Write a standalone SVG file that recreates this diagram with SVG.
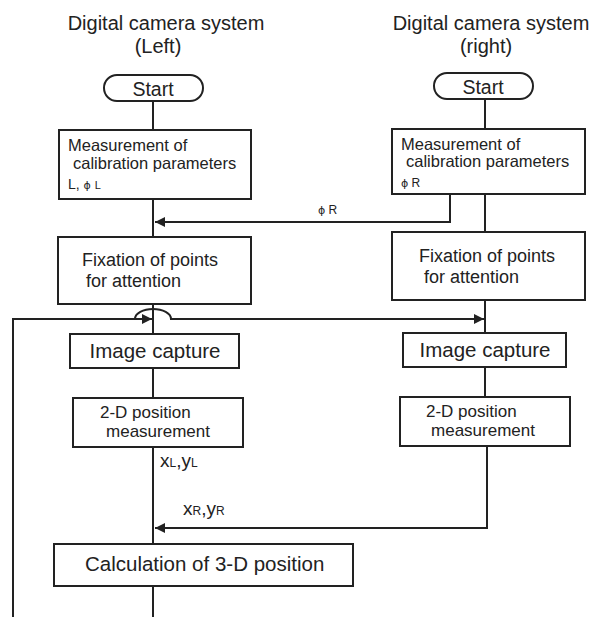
<svg xmlns="http://www.w3.org/2000/svg" width="612" height="617" viewBox="0 0 612 617">
<style>
text{font-family:"Liberation Sans",Arial,sans-serif;fill:#222}
.phi{font-family:"DejaVu Sans",sans-serif}
.box{fill:#fff;stroke:#222;stroke-width:2}
.ln{fill:none;stroke:#222;stroke-width:2}
.t{font-size:20px}
.m{font-size:16.5px}
.f{font-size:18px}
.big{font-size:20.5px}
.s{font-size:12px}
</style>
<defs>
<marker id="ah" viewBox="0 0 10 10" refX="10" refY="5" markerWidth="10" markerHeight="10" markerUnits="userSpaceOnUse" orient="auto">
<path d="M0,0 L10,5 L0,10 z" fill="#222"/>
</marker>
</defs>
<rect width="612" height="617" fill="#fff"/>
<g id="titles">
<text class="t" x="166" y="30" text-anchor="middle">Digital camera system</text>
<text class="t" x="158" y="53" text-anchor="middle">(Left)</text>
<text class="t" x="491" y="30" text-anchor="middle">Digital camera system</text>
<text class="t" x="486" y="53" text-anchor="middle">(right)</text>
</g>
<g id="connectors">
<line class="ln" x1="153" y1="101" x2="153" y2="130"/>
<line class="ln" x1="153" y1="199" x2="153" y2="237"/>
<line class="ln" x1="153" y1="304" x2="153" y2="334"/>
<line class="ln" x1="153" y1="368" x2="153" y2="398"/>
<line class="ln" x1="153" y1="447" x2="153" y2="544"/>
<line class="ln" x1="153" y1="586" x2="153" y2="617"/>
<line class="ln" x1="485" y1="99" x2="485" y2="129"/>
<line class="ln" x1="485" y1="194" x2="485" y2="232"/>
<line class="ln" x1="485" y1="300" x2="485" y2="333"/>
<line class="ln" x1="485" y1="367" x2="485" y2="397"/>
<polyline class="ln" points="450,194 450,222 155,222" marker-end="url(#ah)"/>
<polyline class="ln" points="487,446 487,528 155,528" marker-end="url(#ah)"/>
<polyline class="ln" points="13,617 13,319 152,319" marker-end="url(#ah)"/>
<path class="ln" d="M135,319 A18,10 0 0 1 171,319 L484,319" marker-end="url(#ah)"/>
<text class="s" x="318" y="214"><tspan class="phi" style="font-size:11px">ϕ</tspan> R</text>
<text x="160" y="467" style="font-size:19px">x<tspan style="font-size:12px">L</tspan>,y<tspan style="font-size:12px">L</tspan></text>
<text x="183" y="515" style="font-size:19px">x<tspan style="font-size:12px">R</tspan>,y<tspan style="font-size:12px">R</tspan></text>
</g>
<g id="startL">
<rect class="box" x="104" y="75" width="99" height="26" rx="13"/>
<text x="153" y="96" text-anchor="middle" style="font-size:19.5px">Start</text>
</g>
<g id="startR">
<rect class="box" x="434" y="73" width="99" height="26" rx="13"/>
<text x="483" y="94" text-anchor="middle" style="font-size:19.5px">Start</text>
</g>
<g id="calibL">
<rect class="box" x="59" y="130" width="192" height="69"/>
<text class="m" x="68" y="151">Measurement of</text>
<text class="m" x="73" y="169">calibration parameters</text>
<text x="68" y="189" style="font-size:14px">L,  <tspan class="phi" style="font-size:11px">ϕ</tspan> <tspan style="font-size:11px">L</tspan></text>
</g>
<g id="calibR">
<rect class="box" x="392" y="129" width="193" height="65"/>
<text class="m" x="401" y="150">Measurement of</text>
<text class="m" x="406" y="167">calibration parameters</text>
<text class="s" x="401" y="187"><tspan class="phi" style="font-size:11px">ϕ</tspan> R</text>
</g>
<g id="fixL">
<rect class="box" x="58" y="237" width="193" height="67"/>
<text class="f" x="82" y="266">Fixation of points</text>
<text class="f" x="86" y="287">for attention</text>
</g>
<g id="fixR">
<rect class="box" x="392" y="232" width="193" height="68"/>
<text class="f" x="419" y="262">Fixation of points</text>
<text class="f" x="424" y="283">for attention</text>
</g>
<g id="capL">
<rect class="box" x="70" y="334" width="169" height="34"/>
<text class="big" x="155" y="358" text-anchor="middle">Image capture</text>
</g>
<g id="capR">
<rect class="box" x="403" y="333" width="163" height="34"/>
<text class="big" x="485" y="357" text-anchor="middle">Image capture</text>
</g>
<g id="posL">
<rect class="box" x="73" y="398" width="170" height="49"/>
<text x="100" y="418" style="font-size:17px">2-D position</text>
<text x="158" y="437" text-anchor="middle" style="font-size:17px">measurement</text>
</g>
<g id="posR">
<rect class="box" x="400" y="397" width="170" height="49"/>
<text x="426" y="417" style="font-size:17px">2-D position</text>
<text x="483" y="436" text-anchor="middle" style="font-size:17px">measurement</text>
</g>
<g id="calc">
<rect class="box" x="54" y="544" width="299" height="42"/>
<text class="big" x="85" y="571">Calculation of 3-D position</text>
</g>
</svg>
